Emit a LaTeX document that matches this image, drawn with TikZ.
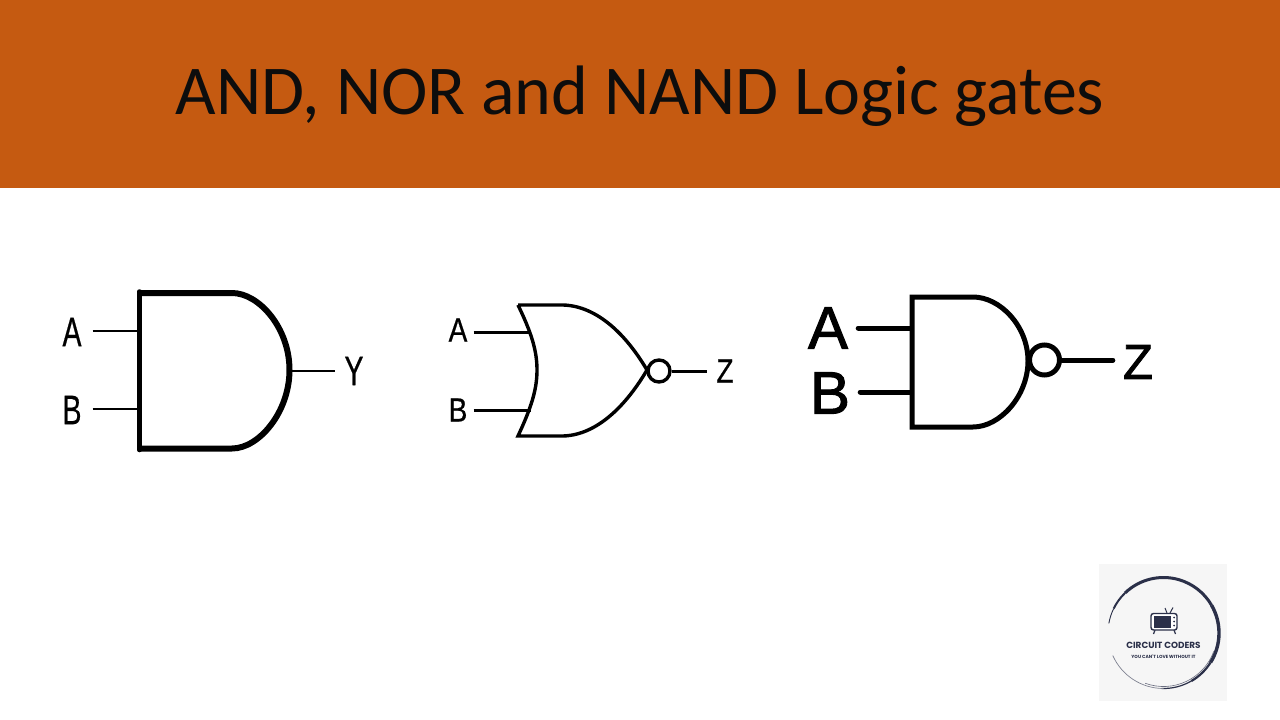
\documentclass[tikz,border=0pt]{standalone}
\usepackage{xcolor}
\usepackage{fontspec}
\usetikzlibrary{positioning}
\setmainfont{Carlito}
\newfontfamily\pinfont[FakeBold=0.6]{Liberation Sans}
\newfontfamily\pinheavy[FakeBold=1.6]{Liberation Sans}
\newfontfamily\logofont{Poppins}

\begin{document}
\begin{tikzpicture}[
  x=1pt,y=-1pt,
  pin label/.style={font=\pinfont\fontsize{#1}{#1}\selectfont,inner sep=0pt,text=black},
  heavy label/.style={font=\pinheavy\fontsize{#1}{#1}\selectfont,inner sep=0pt,text=black},
  thin letter/.style={transform shape,xscale=0.95,yscale=1.38},
  narrow letter/.style={transform shape,xscale=0.88,yscale=1.05},
  body/.style={draw=black,line width=#1,miter limit=4},
  wire/.style={draw=black,line width=#1}]

  \definecolor{banner}{HTML}{C55A11}
  \definecolor{logoback}{HTML}{F6F6F6}
  \definecolor{ink}{HTML}{2B3049}

  \useasboundingbox (0,0) rectangle (1280,720);
  \fill[white] (0,0) rectangle (1280,720);

  % ------------------- banner ----------------------
  \fill[banner] (0,0) rectangle (1280,188);
  \node[inner sep=0pt,text=black!95] (title) at (640,96) {\fontsize{70}{70}\selectfont AND, NOR and NAND Logic gates};

  % ------------------- and gate ----------------------
  \draw[body=6pt] (139,293) -- (232,293)
    .. controls (259,293) and (289.5,328) .. (289.5,370)
    .. controls (289.5,412) and (259,448.5) .. (232,448.5) -- (139,448.5);
  \draw[body=4.5pt,line cap=round] (139.5,291.5) -- (139.5,450);
  \coordinate (andpinA) at (137,331);
  \coordinate (andpinB) at (137,409);
  \coordinate (andpinY) at (289,370.5);
  \node[pin label=30,thin letter] (andA) at (72,332) {A};
  \node[pin label=30,thin letter] (andB) at (72,410) {B};
  \node[pin label=30,thin letter] (andY) at (354,371) {Y};
  \draw[wire=2pt,shorten <=11pt] (andA.east |- andpinA) -- (andpinA);
  \draw[wire=2pt,shorten <=11pt] (andB.east |- andpinB) -- (andpinB);
  \draw[wire=2pt,shorten >=9pt] (andpinY) -- (andY.west |- andpinY);

  % ------------------- nor gate ----------------------
  \draw[body=3.4pt,line join=miter] (518,305) -- (563,305)
    .. controls (598,306) and (627,336) .. (647,370)
    .. controls (627,404) and (598,435) .. (563,436)
    -- (518,436)
    .. controls (531,408) and (537,390) .. (537,370)
    .. controls (537,350) and (531,332) .. (518,305);
  \node[circle,draw=black,line width=3.4pt,minimum size=22pt,inner sep=0pt] (norbubble) at (659,371) {};
  \coordinate (norpinA) at (531,332);
  \coordinate (norpinB) at (531,410);
  \node[pin label=32,narrow letter] (norA) at (458,330) {A};
  \node[pin label=32,narrow letter] (norB) at (458,410) {B};
  \node[pin label=32,narrow letter] (norZ) at (725,371) {Z};
  \draw[wire=3pt,shorten <=6pt] (norA.east |- norpinA) -- (norpinA);
  \draw[wire=3pt,shorten <=6pt] (norB.east) -- (norpinB);
  \draw[wire=3pt,shorten >=9pt] (norbubble.east) -- (norZ.west);

  % ------------------- nand gate ----------------------
  \draw[body=5pt] (973,297) -- (912,297) -- (912,427) -- (973,427)
    .. controls (1000,427) and (1028,396) .. (1028,361)
    .. controls (1028,326) and (1000,297) .. (973,297);
  \node[circle,draw=black,line width=5pt,minimum size=30pt,inner sep=0pt] (nandbubble) at (1044.5,360) {};
  \coordinate (nandpinA) at (910,328);
  \coordinate (nandpinB) at (910,392);
  \node[heavy label=60] (nandA) at (828,328) {A};
  \node[heavy label=60] (nandB) at (830,393) {B};
  \node[heavy label=49] (nandZ) at (1138,362) {Z};
  \draw[wire=5pt,line cap=round,shorten <=10pt] (nandA.east) -- (nandpinA);
  \draw[wire=5pt,line cap=round,shorten <=10pt] (nandB.east |- nandpinB) -- (nandpinB);
  \draw[wire=5pt,line cap=round,shorten >=10pt] (nandbubble.east) -- (nandZ.west |- nandbubble.east);

  % ------------------- logo ----------------------
  \fill[logoback] (1099,564) rectangle (1227,701);
  \coordinate (ring) at (1163.5,633);
  \foreach \a/\b/\w in {190/206/0.9,206/226/2,226/330/3,330/392/3.4,392/420/2.2,420/452/1.2} {
    \draw[ink,line width=\w pt] ([shift={(\a:55.5)}]ring) arc[start angle=\a,end angle=\b,radius=55.5];
  }
  \draw[ink!60,line width=0.7pt] ([shift={(450:55.5)}]ring) arc[start angle=450,end angle=516,radius=55.5];
  \draw[ink!70,line width=0.6pt] ([shift={(380:53.5)}]ring) arc[start angle=380,end angle=470,radius=53.5];

  % tv
  \draw[ink,line width=1pt] (1167,613) -- (1165,608) (1170,613) -- (1173,607.5);
  \draw[ink,line width=1.2pt] (1155,630) -- (1153.5,634) (1174,630) -- (1175.5,634);
  \draw[ink,line width=1.4pt,fill=white,rounded corners=2.5] (1151,613.5) rectangle (1177,630);
  \fill[ink] (1153.5,616) rectangle (1171,628);
  \foreach \y in {617.5,621.5,625.5} {
    \fill[ink] (1174,\y) circle[radius=1];
  }

  \node[inner sep=0pt,text=ink] (logoname) at (1163.5,645) {\logofont\fontsize{8.9}{9}\selectfont\bfseries CIRCUIT CODERS};
  \node[inner sep=0pt,text=ink] (logotag) at (1163.5,656.5) {\logofont\fontsize{4.5}{5}\selectfont\bfseries YOU CAN'T LOVE WITHOUT IT};
\end{tikzpicture}
\end{document}
